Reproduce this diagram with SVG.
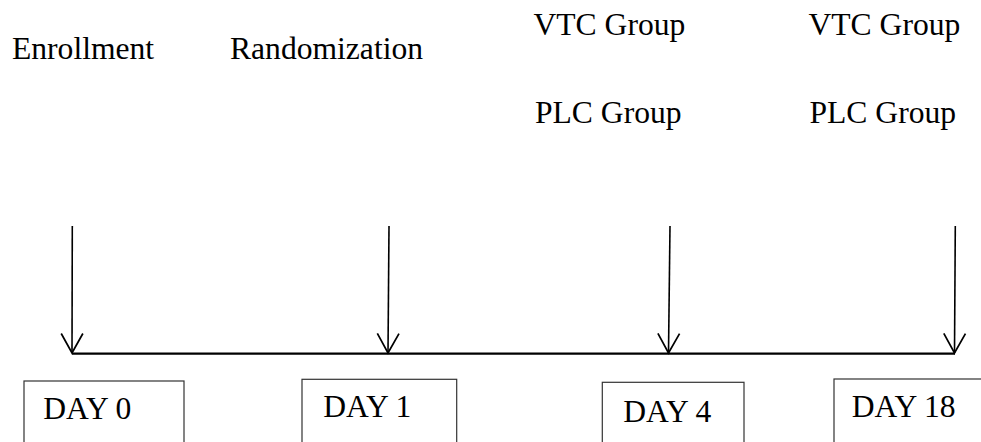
<svg xmlns="http://www.w3.org/2000/svg" width="981" height="442" viewBox="0 0 981 442">
<style>
text{font-family:'Liberation Serif',serif;font-size:31.6px;fill:#000}
.box{fill:#fff;stroke:#333;stroke-width:1.2}
.arr{stroke:#000;stroke-width:1.6;fill:none}
.axis{stroke:#000;stroke-width:2.2;fill:none}
</style>
<defs>
<marker id="vh" markerUnits="userSpaceOnUse" markerWidth="24" markerHeight="26" refX="0" refY="0" viewBox="-20 -12 22 24" orient="auto" overflow="visible">
<path d="M-18,-10 L0,0 L-18,10" fill="none" stroke="#000" stroke-width="1.6"/>
</marker>
</defs>
<rect width="981" height="442" fill="#fff"/>
<g id="labels" font-family="Liberation Serif, serif">
<text x="12" y="59">Enrollment</text>
<text x="230" y="59">Randomization</text>
<text x="533.5" y="35">VTC Group</text>
<text x="535" y="123">PLC Group</text>
<text x="808.5" y="35">VTC Group</text>
<text x="809.5" y="123">PLC Group</text>
</g>
<g id="connectors">
<line class="axis" x1="72" y1="353.7" x2="955" y2="353.7"/>
<line class="arr" x1="72.3" y1="226" x2="72" y2="353" marker-end="url(#vh)"/>
<line class="arr" x1="389" y1="226" x2="388" y2="353" marker-end="url(#vh)"/>
<line class="arr" x1="670" y1="226" x2="668.5" y2="353" marker-end="url(#vh)"/>
<line class="arr" x1="955.3" y1="226" x2="954.5" y2="353" marker-end="url(#vh)"/>
</g>
<g id="day0">
<rect class="box" x="24" y="381" width="160" height="70"/>
<text x="43.3" y="419.3">DAY 0</text>
</g>
<g id="day1">
<rect class="box" x="302" y="379.3" width="154.7" height="70"/>
<text x="323.3" y="417.3">DAY 1</text>
</g>
<g id="day4">
<rect class="box" x="602.3" y="382.3" width="141.7" height="70"/>
<text x="623.3" y="422.3">DAY 4</text>
</g>
<g id="day18">
<rect class="box" x="834" y="379" width="160" height="70"/>
<text x="851.7" y="416.7">DAY 18</text>
</g>
</svg>
